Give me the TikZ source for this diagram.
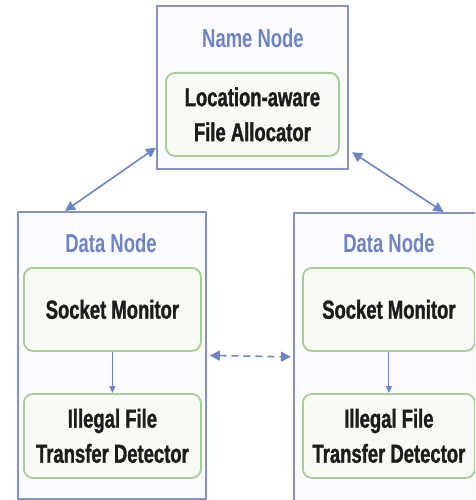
\documentclass[tikz,border=0pt]{standalone}
\usepackage{fontspec}
\setmainfont[FakeStretch=0.71]{Liberation Sans}
\newfontfamily\heavyfont[FakeStretch=0.71,FakeBold=1.2]{Liberation Sans}
\usetikzlibrary{arrows.meta,calc}

\definecolor{frameblue}{HTML}{8493C4}
\definecolor{titleblue}{HTML}{6F83C2}
\definecolor{arrowblue}{HTML}{6F86C6}
\definecolor{boxgreen}{HTML}{A6CD93}
\definecolor{boxfill}{HTML}{F7FBF3}
\definecolor{framefill}{HTML}{FAFCFF}
\definecolor{ink}{HTML}{1C1C1C}

\tikzset{
  x=1pt, y=-1pt,
  frame/.style={draw=frameblue, line width=1.8pt, fill=framefill,
    rectangle, inner sep=0pt, anchor=north west},
  module/.style={draw=boxgreen, line width=1.8pt, fill=boxfill,
    rounded corners=9pt, inner sep=0pt, anchor=north west,
    align=center, text=ink,
    font=\heavyfont\fontsize{26}{35}\selectfont\bfseries},
  title/.style={text=titleblue, font=\fontsize{26}{28}\selectfont\bfseries},
  link/.style={draw=arrowblue, line width=1.6pt,
    {Triangle[length=10pt,width=10pt]}-{Triangle[length=10pt,width=10pt]}},
  flow/.style={draw=arrowblue, line width=1pt,
    -{Triangle[length=7pt,width=6pt]}},
}

\begin{document}
\begin{tikzpicture}
\useasboundingbox (0,0) rectangle (475,500);
\clip (0,0) rectangle (475,500);
\fill[white] (0,0) rectangle (475,500);

% name node with its allocator
\node[frame, minimum width=191pt, minimum height=163pt] (nn) at (156,5) {};
\node[title] (nnt) at (253,38) {Name Node};
\node[module, minimum width=173pt, minimum height=83pt] (alloc) at (165,72)
  {Location-aware\\File Allocator};

% left data node
\node[frame, minimum width=188pt, minimum height=287pt] (dl) at (17,211) {};
\node[title] (dlt) at (111,243) {Data Node};
\node[module, minimum width=177pt, minimum height=83pt] (sml) at (23,267)
  {Socket Monitor};
\node[module, minimum width=177pt, minimum height=84pt] (ifl) at (23,393)
  {Illegal File\\Transfer Detector};

% right data node
\node[frame, minimum width=188pt, minimum height=288pt] (dr) at (293,212) {};
\node[title] (drt) at (389,243) {Data Node};
\node[module, minimum width=172pt, minimum height=83pt] (smr) at (302,267)
  {Socket Monitor};
\node[module, minimum width=172pt, minimum height=84pt] (ifr) at (302,393)
  {Illegal File\\Transfer Detector};

% links between the nodes
\draw[link] (nn.212.5) -- (dl.108.4);
\draw[link, shorten <=4pt] (nn.-33.6) -- (dr.69);
\draw[link, dashed, dash pattern=on 7pt off 5pt, shorten <=3pt, shorten >=2pt]
  (dl.east) -- (dr.west);

% internal flow
\draw[flow] (sml.south) -- (ifl.north);
\draw[flow] (smr.south) -- (ifr.north);
\end{tikzpicture}
\end{document}
